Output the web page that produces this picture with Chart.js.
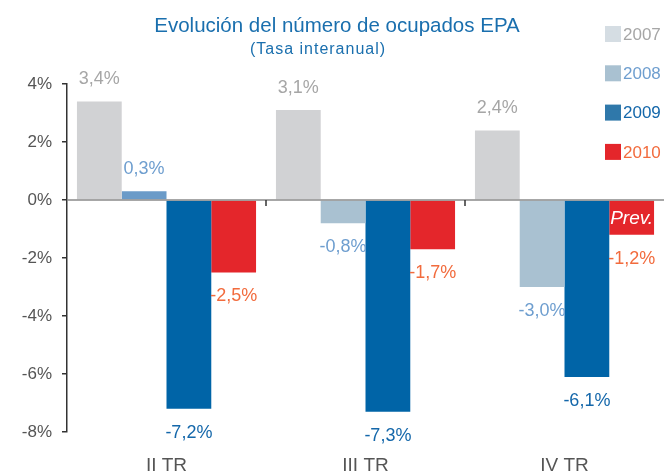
<!DOCTYPE html>
<html>
<head>
<meta charset="utf-8">
<script src="https://cdn.jsdelivr.net/npm/chart.js@4.4.1/dist/chart.umd.min.js"></script>
<style>
  html, body { margin: 0; padding: 0; background: #fff; }
  #grafico { display: block; }
</style>
</head>
<body>
<canvas id="grafico" width="664" height="472"></canvas>
<script>
// Datos
const categorias = ['II TR', 'III TR', 'IV TR']
const anios = ['2007', '2008', '2009', '2010']
const v2007 = [3.4, 3.1, 2.4]
const v2008 = [0.3, -0.8, -3.0]
const v2009 = [-7.2, -7.3, -6.1]
const v2010 = [-2.5, -1.7, -1.2]
const ticksY = [-8, -6, -4, -2, 0, 2, 4]

const fuente = "'Liberation Sans', Arial, sans-serif"

// colores: barra, etiqueta, cuadro de leyenda
const colBarras = [
  '#d1d2d4',
  ['#6b9bc8', '#a9c1d1', '#a9c1d1'],
  '#0064a7',
  '#e4262b'
]
const colTexto = ['#a6a6a6', '#6e9ecf', '#1467aa', '#f26b3d']
const colLeyenda = ['#d5dde3', '#a9c1d1', '#2f78aa', '#e4262b']

const fmt = v => v.toFixed(1).replace('.', ',') + '%'

// Etiquetas, línea del cero, título y leyenda
const extras = {
  id: 'extras',
  afterDatasetsDraw(chart) {
    const c = chart.ctx
    const area = chart.chartArea
    const y = chart.scales.y
    const x = chart.scales.x
    const y0 = y.getPixelForValue(0)

    // línea del cero
    c.save()
    c.strokeStyle = '#8a8a8a'
    c.lineWidth = 1.5
    c.beginPath()
    c.moveTo(area.left, y0)
    c.lineTo(area.right, y0)
    c.stroke()

    // marcas entre categorías
    c.strokeStyle = '#333'
    c.lineWidth = 1.5
    for (let i = 0; i < categorias.length - 1; i++) {
      const px = (x.getPixelForValue(i) + x.getPixelForValue(i + 1)) / 2
      c.beginPath()
      c.moveTo(px, y0)
      c.lineTo(px, y0 + 6)
      c.stroke()
    }

    // valores
    c.font = '18px ' + fuente
    c.textAlign = 'center'
    c.textBaseline = 'middle'
    chart.data.datasets.forEach((ds, i) => {
      chart.getDatasetMeta(i).data.forEach((bar, j) => {
        const v = ds.data[j]
        c.fillStyle = colTexto[i]
        const ty = v >= 0 ? bar.y - 22 : bar.y + 24
        c.fillText(fmt(v), bar.x, ty)
      })
    })

    // "Prev." en la última barra de 2010
    const ult = chart.getDatasetMeta(3).data[categorias.length - 1]
    c.font = 'italic 19px ' + fuente
    c.fillStyle = '#fff'
    c.fillText('Prev.', ult.x, (ult.y + ult.base) / 2 + 1)

    // título
    c.textBaseline = 'alphabetic'
    c.fillStyle = '#1a6fae'
    c.font = '20.5px ' + fuente
    c.fillText('Evolución del número de ocupados EPA', 337, 32)
    c.font = '16px ' + fuente
    c.letterSpacing = '1px'
    c.fillText('(Tasa interanual)', 318, 54)
    c.letterSpacing = '0px'

    // leyenda
    c.textAlign = 'left'
    c.textBaseline = 'middle'
    c.font = '17px ' + fuente
    anios.forEach((a, i) => {
      const cy = 34 + i * 39.3
      c.fillStyle = colLeyenda[i]
      c.fillRect(605, cy - 8, 16, 16)
      c.fillStyle = colTexto[i]
      c.fillText(a, 623, cy + 1)
    })
    c.restore()
  }
}

const series = [v2007, v2008, v2009, v2010]

const chart = new Chart(document.getElementById('grafico'), {
  type: 'bar',
  data: {
    labels: categorias,
    datasets: series.map((s, i) => ({
      label: anios[i],
      data: s,
      backgroundColor: colBarras[i],
      borderWidth: 0,
      barPercentage: 1,
      categoryPercentage: 0.9
    }))
  },
  options: {
    responsive: false,
    animation: false,
    devicePixelRatio: 1,
    layout: { padding: { top: 84, left: 0, right: 0, bottom: 0 } },
    plugins: {
      legend: { display: false },
      title: { display: false },
      tooltip: { enabled: false }
    },
    scales: {
      x: {
        grid: { display: false },
        border: { display: false },
        afterFit: s => { s.height = 40 },
        ticks: {
          color: '#555',
          font: { family: fuente, size: 19, lineHeight: 1.2 },
          padding: 14
        }
      },
      y: {
        min: -8,
        max: 4,
        afterBuildTicks: s => { s.ticks = ticksY.map(v => ({ value: v })) },
        afterFit: s => { s.width = 67 },
        grid: {
          drawOnChartArea: false,
          drawTicks: true,
          tickLength: 5,
          color: '#333',
          lineWidth: 1.5
        },
        border: { display: true, color: '#333', width: 1.5 },
        ticks: {
          color: '#555',
          padding: 10,
          font: { family: fuente, size: 17 },
          callback: v => v + '%'
        }
      }
    }
  },
  plugins: [extras]
})
</script>
</body>
</html>
